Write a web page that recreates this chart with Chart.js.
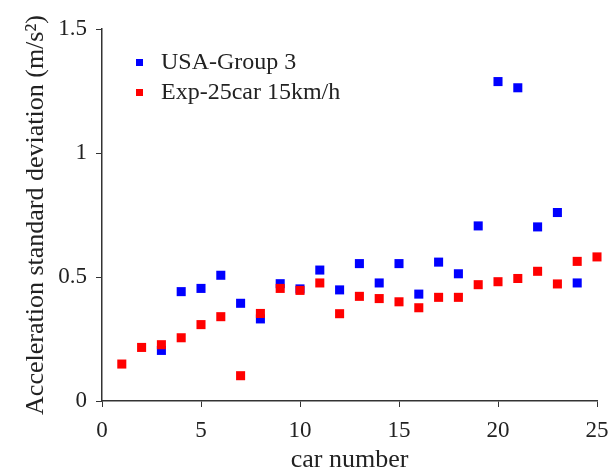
<!DOCTYPE html>
<html>
<head>
<meta charset="utf-8">
<script src="https://cdn.jsdelivr.net/npm/chart.js@4"></script>
<style>
  body { margin: 0; background: #fff; }
  canvas { display: block; }
</style>
</head>
<body>
<canvas id="accChart" width="613" height="472"></canvas>
<script>
// car numbers for each series
const usaCars = [3, 4, 5, 6, 7, 8, 9, 10, 11, 12, 13, 14, 15, 16, 17, 18, 19, 20, 21, 22, 23, 24];
const usaStd = [0.204, 0.441, 0.454, 0.507, 0.394, 0.331, 0.473, 0.452, 0.528, 0.448, 0.554,
                0.476, 0.554, 0.431, 0.560, 0.513, 0.706, 1.288, 1.263, 0.702, 0.760, 0.476];
const expCars = [1, 2, 3, 4, 5, 6, 7, 8, 9, 10, 11, 12, 13, 14, 15, 16, 17, 18, 19, 20, 21, 22, 23, 24, 25];
const expStd = [0.149, 0.216, 0.227, 0.255, 0.308, 0.340, 0.102, 0.353, 0.454, 0.446, 0.476, 0.352,
                0.422, 0.413, 0.400, 0.376, 0.418, 0.418, 0.469, 0.481, 0.494, 0.523, 0.472, 0.563, 0.581];
const seriesNames = ['USA-Group 3', 'Exp-25car 15km/h'];
const xTicks = [0, 5, 10, 15, 20, 25];
const yTicks = [0, 0.5, 1, 1.5];

const toPoints = (xs, ys) => xs.map((x, i) => ({ x: x, y: ys[i] }));

const serif = 'Liberation Serif';
const textCol = '#222';
const axisCol = '#333';

// legend drawn inside the plot, top left
const innerLegend = {
    id: 'innerLegend',
    afterDraw(chart) {
        const { ctx, chartArea: { left, top } } = chart;
        ctx.save();
        ctx.font = '24px "' + serif + '"';
        ctx.textBaseline = 'middle';
        ctx.textAlign = 'left';
        chart.data.datasets.forEach((ds, i) => {
            const y = top + 33 + i * 30;
            ctx.fillStyle = ds.backgroundColor;
            ctx.fillRect(left + 34, y - 3, 7, 7);
            ctx.fillStyle = textCol;
            ctx.fillText(ds.label, left + 59, y + 1);
        });
        ctx.restore();
    }
};

const ctx = document.getElementById('accChart');
const myChart = new Chart(ctx, {
    type: 'scatter',
    data: {
        datasets: [{
            label: seriesNames[0],
            data: toPoints(usaCars, usaStd),
            backgroundColor: '#0000ff',
            borderWidth: 0,
            pointStyle: 'rect',
            pointRadius: 6.4,
            pointHoverRadius: 6.4,
            clip: false,
            order: 1
        }, {
            label: seriesNames[1],
            data: toPoints(expCars, expStd),
            backgroundColor: '#ff0000',
            borderWidth: 0,
            pointStyle: 'rect',
            pointRadius: 6.4,
            pointHoverRadius: 6.4,
            clip: false,
            order: 0
        }]
    },
    options: {
        responsive: false,
        devicePixelRatio: 1,
        animation: false,
        layout: { padding: { top: 29, right: 16, left: 0, bottom: 0 } },
        plugins: {
            legend: { display: false },
            tooltip: { enabled: false }
        },
        scales: {
            x: {
                type: 'linear',
                min: 0,
                max: 25,
                afterBuildTicks(scale) {
                    scale.ticks = xTicks.map(v => ({ value: v }));
                },
                afterFit(scale) {
                    scale.height = 71;
                    scale.paddingLeft = 0;
                    scale.paddingRight = 0;
                },
                grid: {
                    drawOnChartArea: false,
                    drawTicks: true,
                    tickLength: 6,
                    color: axisCol
                },
                border: { display: true, color: axisCol, width: 1.5 },
                ticks: {
                    padding: 10,
                    maxRotation: 0,
                    color: textCol,
                    font: { family: serif, size: 23 }
                },
                title: {
                    display: true,
                    text: 'car number',
                    color: textCol,
                    font: { family: serif, size: 26, lineHeight: 1 },
                    padding: { top: 0, bottom: -1 }
                }
            },
            y: {
                type: 'linear',
                min: 0,
                max: 1.5,
                afterBuildTicks(scale) {
                    scale.ticks = yTicks.map(v => ({ value: v }));
                },
                afterFit(scale) {
                    scale.width = 102;
                    scale.paddingTop = 0;
                    scale.paddingBottom = 0;
                },
                grid: {
                    drawOnChartArea: false,
                    drawTicks: true,
                    tickLength: 6,
                    color: axisCol
                },
                border: { display: true, color: axisCol, width: 1.5 },
                ticks: {
                    padding: 9,
                    color: textCol,
                    font: { family: serif, size: 23 },
                    callback: v => String(v)
                },
                title: {
                    display: true,
                    text: 'Acceleration standard deviation (m/s²)',
                    color: textCol,
                    font: { family: serif, size: 26, lineHeight: 1 },
                    padding: { top: 23, bottom: 0 }
                }
            }
        }
    },
    plugins: [innerLegend]
});
</script>
</body>
</html>
